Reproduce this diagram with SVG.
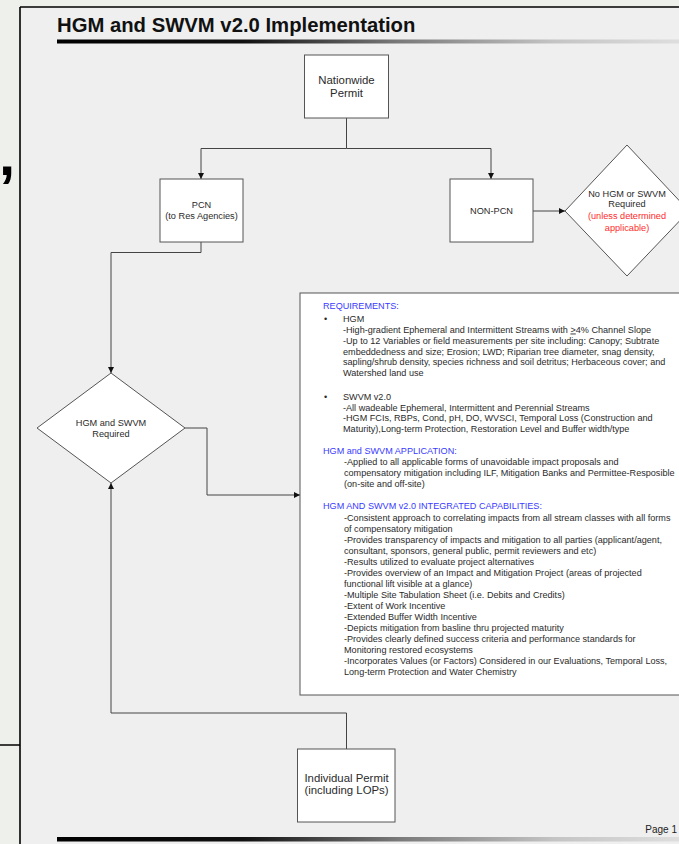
<svg xmlns="http://www.w3.org/2000/svg" width="679" height="844" viewBox="0 0 679 844">
<style>
.node{fill:#fff;stroke:#555;stroke-width:1}
.conn{fill:none;stroke:#444;stroke-width:1}
.lbl{font-family:"Liberation Sans",Arial,sans-serif;fill:#2a2a2a;text-anchor:middle}
.s{font-size:9.2px}
.b{font-size:11.4px}
.red{fill:#ff2a2a}
.body{font-family:"Liberation Sans",Arial,sans-serif;font-size:9.1px;fill:#2a2a2a}
.head{fill:#3a3aff}
</style>
<defs>
<linearGradient id="bar" x1="0" y1="0" x2="1" y2="0">
<stop offset="0" stop-color="#000"/>
<stop offset="0.3" stop-color="#111"/>
<stop offset="0.55" stop-color="#7a7a7a"/>
<stop offset="0.8" stop-color="#c4c4c4"/>
<stop offset="1" stop-color="#dedede"/>
</linearGradient>
<marker id="arr" viewBox="0 0 10 10" refX="10" refY="5" markerWidth="6" markerHeight="6" markerUnits="userSpaceOnUse" orient="auto">
<path d="M0,0 L10,5 L0,10 Z" fill="#111"/>
</marker>
</defs>
<rect x="0" y="0" width="679" height="844" fill="#eef0ec"/>
<rect x="20" y="7" width="659" height="837" fill="#efefef"/>
<line x1="20" y1="7" x2="679" y2="7" stroke="#000" stroke-width="1.6"/>
<line x1="20" y1="7" x2="20" y2="844" stroke="#000" stroke-width="1.6"/>
<line x1="0" y1="745" x2="20" y2="745" stroke="#000" stroke-width="1.5"/>
<text x="-1" y="175" font-family="Liberation Sans,Arial,sans-serif" font-weight="bold" font-size="58" fill="#000">,</text>
<text x="57" y="32" font-family="Liberation Sans,Arial,sans-serif" font-weight="bold" font-size="20.3" fill="#111">HGM and SWVM v2.0 Implementation</text>
<rect x="57" y="39.5" width="622" height="4" fill="url(#bar)"/>
<rect x="57" y="837" width="622" height="4.5" fill="url(#bar)"/>
<text x="677" y="833" font-family="Liberation Sans,Arial,sans-serif" font-size="10" fill="#222" text-anchor="end">Page 1</text>

<g id="connectors">
<path class="conn" d="M346.5,118 V148.5 H201 V179" marker-end="url(#arr)"/>
<path class="conn" d="M346.5,148.5 H491 V179" marker-end="url(#arr)"/>
<path class="conn" d="M533,211 H565" marker-end="url(#arr)"/>
<path class="conn" d="M201,242 V252.5 H111 V373" marker-end="url(#arr)"/>
<path class="conn" d="M185,428 H207 V495 H300" marker-end="url(#arr)"/>
<path class="conn" d="M346.5,749 V713 H111 V483" marker-end="url(#arr)"/>
</g>

<g id="nationwide">
<rect class="node" x="304.5" y="55" width="84" height="63"/>
<text class="lbl b" x="346.5" y="84">Nationwide</text>
<text class="lbl b" x="346.5" y="97">Permit</text>
</g>
<g id="pcn">
<rect class="node" x="160" y="179" width="83" height="63"/>
<text class="lbl s" x="201.5" y="208">PCN</text>
<text class="lbl s" x="201.5" y="219">(to Res Agencies)</text>
</g>
<g id="nonpcn">
<rect class="node" x="450" y="179" width="83" height="63"/>
<text class="lbl s" x="491.5" y="214">NON-PCN</text>
</g>
<g id="no-hgm">
<polygon class="node" points="565,211 627,145 689,211 627,276"/>
<text class="lbl s" x="627" y="197">No HGM or SWVM</text>
<text class="lbl s" x="627" y="206.5">Required</text>
<text class="lbl s red" x="627" y="219">(unless determined</text>
<text class="lbl s red" x="627" y="230.5">applicable)</text>
</g>
<g id="hgm-swvm">
<polygon class="node" points="37,428 111,373 185,428 111,483"/>
<text class="lbl s" x="111" y="426">HGM and SWVM</text>
<text class="lbl s" x="111" y="437">Required</text>
</g>
<g id="individual">
<rect class="node" x="297.5" y="749" width="97.5" height="73"/>
<text class="lbl b" x="346.5" y="782">Individual Permit</text>
<text class="lbl b" x="346.5" y="794">(including LOPs)</text>
</g>

<g id="requirements">
<rect class="node" x="300" y="293" width="395" height="402"/>
<g class="body">
<text class="head" x="323" y="309">REQUIREMENTS:</text>
<text x="324" y="321.5">•</text>
<text x="343" y="321.5">HGM</text>
<text x="343" y="332.5">-High-gradient Ephemeral and Intermittent Streams with <tspan text-decoration="underline">&gt;</tspan>4% Channel Slope</text>
<text x="343" y="343.5">-Up to 12 Variables or field measurements per site including: Canopy; Subtrate</text>
<text x="343" y="354.5">embeddedness and size; Erosion; LWD; Riparian tree diameter, snag density,</text>
<text x="343" y="365">sapling/shrub density, species richness and soil detritus; Herbaceous cover; and</text>
<text x="343" y="376">Watershed land use</text>
<text x="324" y="399.5">•</text>
<text x="343" y="399.5">SWVM v2.0</text>
<text x="343" y="410.5">-All wadeable Ephemeral, Intermittent and Perennial Streams</text>
<text x="343" y="421">-HGM FCIs, RBPs, Cond, pH, DO, WVSCI, Temporal Loss (Construction and</text>
<text x="343" y="432">Maturity),Long-term Protection, Restoration Level and Buffer width/type</text>
<text class="head" x="323" y="454">HGM and SWVM APPLICATION:</text>
<text x="344" y="464.5">-Applied to all applicable forms of unavoidable impact proposals and</text>
<text x="344" y="475.5">compensatory mitigation including ILF, Mitigation Banks and Permittee-Resposible</text>
<text x="344" y="486.5">(on-site and off-site)</text>
<text class="head" x="323" y="509">HGM AND SWVM v2.0 INTEGRATED CAPABILITIES:</text>
<text x="344" y="521">-Consistent approach to correlating impacts from all stream classes with all forms</text>
<text x="344" y="532">of compensatory mitigation</text>
<text x="344" y="543">-Provides transparency of impacts and mitigation to all parties (applicant/agent,</text>
<text x="344" y="554">consultant, sponsors, general public, permit reviewers and etc)</text>
<text x="344" y="565">-Results utilized to evaluate project alternatives</text>
<text x="344" y="576">-Provides overview of an Impact and Mitigation Project (areas of projected</text>
<text x="344" y="587">functional lift visible at a glance)</text>
<text x="344" y="598">-Multiple Site Tabulation Sheet (i.e. Debits and Credits)</text>
<text x="344" y="609">-Extent of Work Incentive</text>
<text x="344" y="620">-Extended Buffer Width Incentive</text>
<text x="344" y="631">-Depicts mitigation from basline thru projected maturity</text>
<text x="344" y="642">-Provides clearly defined success criteria and performance standards for</text>
<text x="344" y="653">Monitoring restored ecosystems</text>
<text x="344" y="664">-Incorporates Values (or Factors) Considered in our Evaluations, Temporal Loss,</text>
<text x="344" y="675">Long-term Protection and Water Chemistry</text>
</g>
</g>
</svg>
